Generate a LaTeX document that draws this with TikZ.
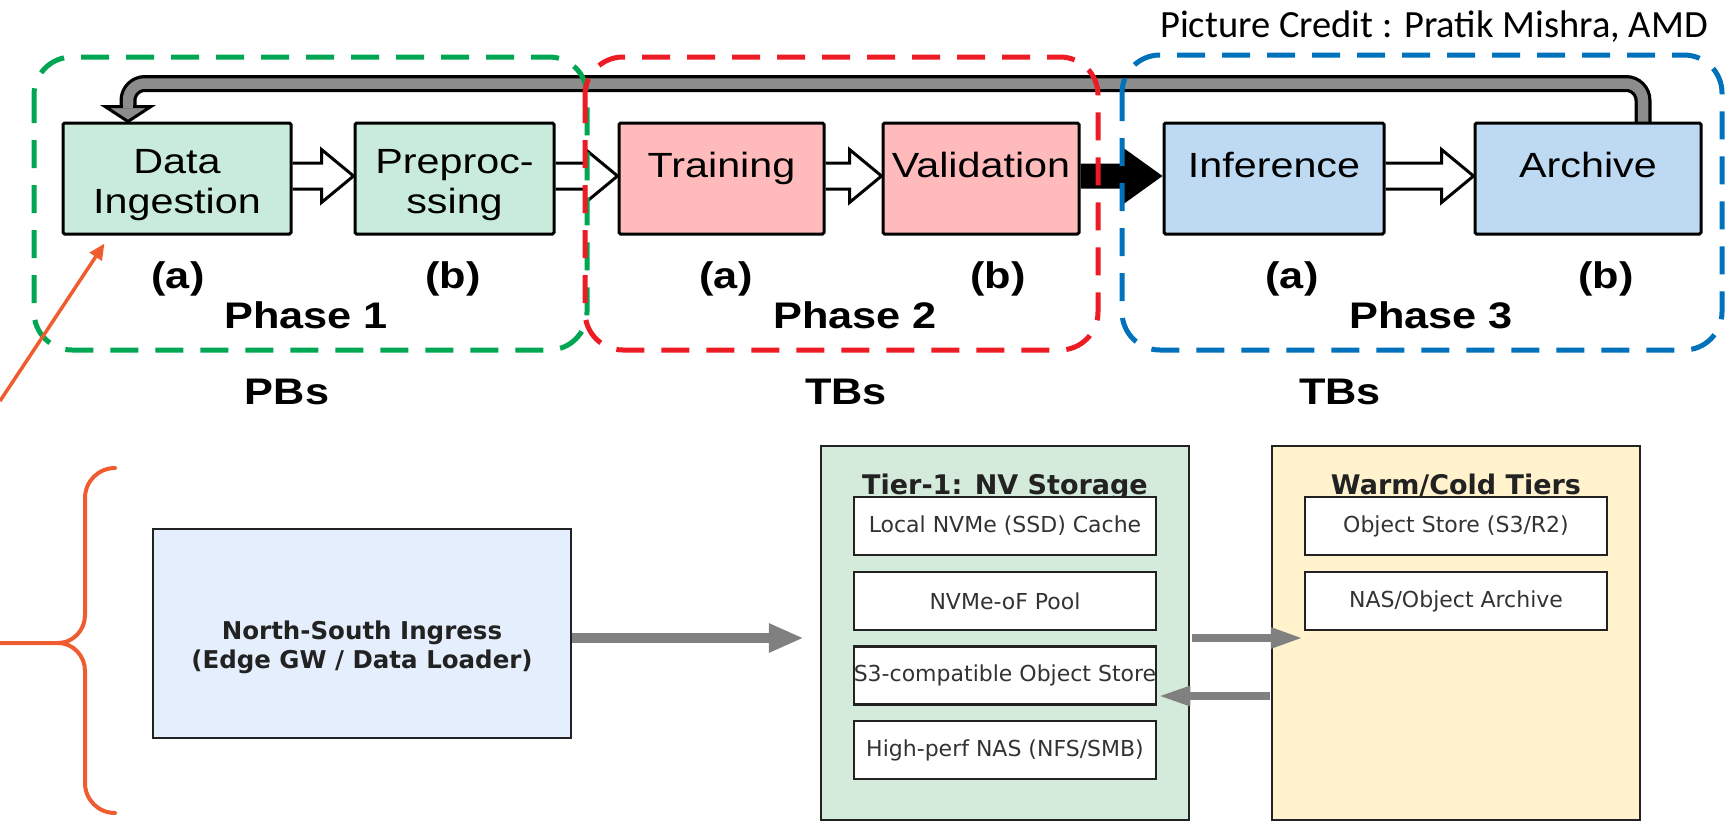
\documentclass[tikz,border=0pt]{standalone}
\usepackage{fontspec}
\usetikzlibrary{arrows.meta,calc}
\pgfdeclarelayer{background}
\pgfsetlayers{background,main}

\newfontfamily\stagefont[FakeStretch=1.18]{Liberation Sans}
\newfontfamily\phasefont[FakeStretch=1.17]{Liberation Sans}
\newfontfamily\creditfont{Carlito}
\newfontfamily\dvfont{DejaVu Sans}

\definecolor{stgGreen}{RGB}{200,235,220}
\definecolor{stgPink}{RGB}{255,187,187}
\definecolor{stgBlue}{RGB}{190,218,242}
\definecolor{frGreen}{RGB}{0,166,81}
\definecolor{frRed}{RGB}{237,28,36}
\definecolor{frBlue}{RGB}{0,114,188}
\definecolor{fbGrey}{RGB}{140,140,140}
\definecolor{accentOrange}{RGB}{238,92,48}
\definecolor{nsFill}{RGB}{228,238,252}
\definecolor{tOneFill}{RGB}{212,234,218}
\definecolor{wcFill}{RGB}{255,242,204}
\definecolor{flowGrey}{RGB}{128,128,128}
\definecolor{inkDark}{RGB}{34,34,34}
\definecolor{inkText}{RGB}{51,51,51}

% white block arrow between two stage boxes
\newcommand\hollowlink[2]{%
  \draw[hollowarrow] let \p1=(#1.east), \p2=(#2.west) in
    (\x1,\y1+15.5pt) -- (\x2-32pt,\y1+15.5pt) -- (\x2-32pt,\y1+29pt) -- (\x2,\y1+2.5pt)
    -- (\x2-32pt,\y1-24pt) -- (\x2-32pt,\y1-10.5pt) -- (\x1,\y1-10.5pt);}
% solid black block arrow between two stage boxes
\newcommand\solidlink[2]{%
  \fill[black] let \p1=(#1.east), \p2=(#2.west) in
    (\x1,\y1+15pt) -- (\x2-39pt,\y1+15pt) -- (\x2-39pt,\y1+30.5pt) -- (\x2,\y1+2.5pt)
    -- (\x2-39pt,\y1-25.5pt) -- (\x2-39pt,\y1-10pt) -- (\x1,\y1-10pt) -- cycle;}

\begin{document}
\begin{tikzpicture}[x=1pt,y=-1pt,
  stagebox/.style={draw=black,line width=3pt,rounded corners=1.5pt,minimum height=111pt,
    inner sep=0pt,align=center,font=\stagefont\fontsize{35}{40}\selectfont},
  oneline/.style={text height=24pt,text depth=27pt},
  twoline/.style={text height=76pt,text depth=7pt},
  phaselabel/.style={anchor=base,inner sep=0pt,font=\phasefont\bfseries\fontsize{37}{44}\selectfont},
  hollowarrow/.style={draw=black,fill=white,line width=3pt,line join=miter},
  frame/.style={line width=5pt,dash pattern=on 28pt off 17pt,rounded corners=38pt},
  pointer/.style={draw=accentOrange,line width=3.5pt,-{Triangle[length=16pt,width=14pt]}},
  brace/.style={draw=accentOrange,line width=4pt,line cap=round},
  nsbox/.style={draw=inkDark,line width=2.5pt,fill=nsFill,minimum width=418pt,minimum height=209pt,
    inner sep=0pt,align=center,text=inkDark,font=\dvfont\bfseries\fontsize{24.5}{29}\selectfont,
    text height=76pt,text depth=7pt},
  tierbox/.style={draw=inkDark,line width=2.5pt,minimum width=368pt,minimum height=374pt,inner sep=0pt},
  tiertitle/.style={anchor=base,inner sep=0pt,text=inkDark,font=\dvfont\bfseries\fontsize{27}{31}\selectfont},
  slot/.style={draw=inkDark,line width=2.5pt,fill=white,minimum width=302pt,minimum height=58pt,
    inner sep=0pt,text=inkText,font=\dvfont\fontsize{22}{26}\selectfont},
  flow/.style={draw=flowGrey,color=flowGrey}
]
\useasboundingbox (0,0) rectangle (1725,822);

% ---------- credit line ----------
\node[anchor=base east,inner sep=0pt,font=\creditfont\fontsize{38.5}{44}\selectfont] (credit)
  at (1708,37) {Picture Credit : Pratik Mishra, AMD};

% ---------- pipeline stages ----------
\node[stagebox,twoline,fill=stgGreen,minimum width=228pt] (DI) at (177,178.5) {Data\\Ingestion};
\node[stagebox,twoline,fill=stgGreen,minimum width=199pt] (PP) at (454.5,178.5) {Preproc-\\ssing};
\node[stagebox,oneline,fill=stgPink,minimum width=205pt] (TR) at (721.5,178.5) {Training};
\node[stagebox,oneline,fill=stgPink,minimum width=196pt] (VA) at (981,178.5) {Validation};
\node[stagebox,oneline,fill=stgBlue,minimum width=220pt] (IN) at (1274,178.5) {Inference};
\node[stagebox,oneline,fill=stgBlue,minimum width=226pt] (AR) at (1588,178.5) {Archive};

% stage tags and phase names
\node[phaselabel] (a1) at (178,288) {(a)};
\node[phaselabel] (b1) at (453,288) {(b)};
\node[phaselabel] (ph1) at (306,328) {Phase 1};
\node[phaselabel] (a2) at (726,288) {(a)};
\node[phaselabel] (b2) at (998,288) {(b)};
\node[phaselabel] (ph2) at (855,328) {Phase 2};
\node[phaselabel] (a3) at (1292,288) {(a)};
\node[phaselabel] (b3) at (1606,288) {(b)};
\node[phaselabel] (ph3) at (1431,328) {Phase 3};
\node[phaselabel] (vol1) at (287,404) {PBs};
\node[phaselabel] (vol2) at (846,404) {TBs};
\node[phaselabel] (vol3) at (1340,404) {TBs};

% ---------- storage layout ----------
\node[nsbox] (NS) at (362,633.5) {North-South Ingress\\(Edge GW / Data Loader)};

\node[tierbox,fill=tOneFill] (T1) at (1005,633) {};
\node[tierbox,fill=wcFill] (WC) at (1456,633) {};
\node[tiertitle] (T1title) at ($(T1.north)+(0,50)$) {Tier-1: NV Storage};
\node[tiertitle] (WCtitle) at ($(WC.north)+(0,50)$) {Warm/Cold Tiers};

\node[slot] (s1) at (1005,526) {Local NVMe (SSD) Cache};
\node[slot] (s2) at (1005,601) {NVMe-oF Pool};
\node[slot] (s3) at (1005,675.5) {\makebox[0pt]{S3-compatible Object Store}};
\node[slot] (s4) at (1005,750) {High-perf NAS (NFS/SMB)};
\node[slot] (w1) at (1456,526) {Object Store (S3/R2)};
\node[slot] (w2) at (1456,601) {NAS/Object Archive};

% ---------- connectors behind the boxes ----------
\begin{pgfonlayer}{background}
  \hollowlink{DI}{PP}
  \hollowlink{PP}{TR}
  \hollowlink{TR}{VA}
  \hollowlink{IN}{AR}
  \solidlink{VA}{IN}

  % feedback loop from Archive back to Data Ingestion
  \coordinate (fbStart) at ($(AR.north)+(55,2)$);
  \coordinate (fbTip) at ($(DI.north)+(-49,0)$);
  \coordinate (fbBase) at ($(fbTip)+(0,-15)$);
  \coordinate (fbTop) at ($(fbTip)+(0,-38)$);
  \draw[line width=17pt,black,rounded corners=17pt] (fbStart) |- (fbTop) -- (fbBase);
  \draw[line width=10.5pt,fbGrey,rounded corners=17pt] (fbStart) |- (fbTop) -- ($(fbBase)+(0,3)$);
  \filldraw[fill=fbGrey,draw=black,line width=3pt,line join=miter]
    ($(fbBase)+(-23,0)$) -- ($(fbBase)+(23,0)$) -- (fbTip) -- cycle;
  \draw[line width=10.5pt,fbGrey] ($(fbBase)+(0,-4)$) -- ($(fbBase)+(0,1.5)$);

  % ingress into tier 1
  \coordinate (nsOut) at ($(NS.east)+(0,4.5)$);
  \draw[flow,line width=10pt,-{Triangle[length=35pt,width=27pt]}]
    (nsOut) -- ($(nsOut -| T1.west)+(-16,0)$);
\end{pgfonlayer}

% tiering / recall between the storage groups
\coordinate (upOut) at ($(T1.east)+(1.25,5)$);
\draw[flow,line width=8pt,-{Triangle[length=33pt,width=19pt]}] (upOut) -- (upOut -| w2.west);
\coordinate (dnOut) at ($(WC.west)+(-1.25,63)$);
\draw[flow,line width=8pt,-{Triangle[length=33pt,width=18pt]}] (dnOut) -- (dnOut -| s3.east);

% ---------- phase frames ----------
\draw[frame,draw=frGreen] (34,57) rectangle (587,350);
\draw[frame,draw=frRed] (585,57) rectangle (1098,350);
\draw[frame,draw=frBlue] (1122,55) rectangle (1722,350);

% ---------- callout pointer and brace ----------
\coordinate (oTail) at (0,401);
\draw[pointer] (oTail) -- ($(DI.south west)+(43,8)$);
\draw[brace] (115,468) to[out=180,in=90] (85,498) -- (85,615) to[out=-90,in=0] (58,643) -- (0,643);
\draw[brace] (58,643) to[out=0,in=90] (85,671) -- (85,783) to[out=-90,in=180] (115,813);

\end{tikzpicture}
\end{document}
